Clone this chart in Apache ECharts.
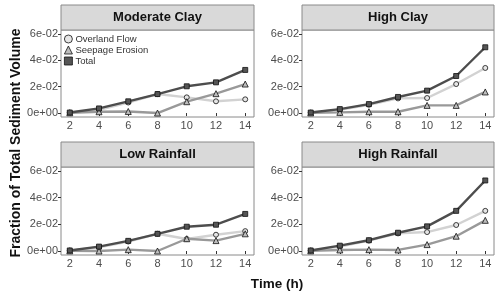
<!DOCTYPE html>
<html><head><meta charset="utf-8">
<script src="https://cdn.jsdelivr.net/npm/echarts@6/dist/echarts.min.js"></script>
<style>html,body{margin:0;padding:0;background:#fff}#c{width:500px;height:294px}</style>
</head><body><div id="c"></div>
<script>
const hours = [2, 4, 6, 8, 10, 12, 14];
const panelTitles = ['Moderate Clay', 'High Clay', 'Low Rainfall', 'High Rainfall'];
const seriesNames = ['Overland Flow', 'Seepage Erosion', 'Total'];

const moderateClayOverland = [0.0003, 0.0025, 0.0080, 0.0144, 0.0119, 0.0089, 0.0104];
const moderateClaySeepage  = [0.0002, 0.0010, 0.0012, 0.0000, 0.0086, 0.0147, 0.0220];
const moderateClayTotal    = [0.0004, 0.0035, 0.0089, 0.0144, 0.0203, 0.0233, 0.0327];

const highClayOverland = [0.0003, 0.0025, 0.0063, 0.0111, 0.0114, 0.0220, 0.0342];
const highClaySeepage  = [0.0001, 0.0005, 0.0010, 0.0010, 0.0058, 0.0058, 0.0160];
const highClayTotal    = [0.0004, 0.0030, 0.0068, 0.0122, 0.0170, 0.0281, 0.0499];

const lowRainOverland = [0.0003, 0.0028, 0.0071, 0.0129, 0.0090, 0.0122, 0.0149];
const lowRainSeepage  = [0.0001, 0.0000, 0.0010, 0.0000, 0.0092, 0.0078, 0.0129];
const lowRainTotal    = [0.0004, 0.0033, 0.0076, 0.0129, 0.0182, 0.0197, 0.0278];

const highRainOverland = [0.0003, 0.0033, 0.0078, 0.0132, 0.0142, 0.0195, 0.0301];
const highRainSeepage  = [0.0001, 0.0008, 0.0010, 0.0008, 0.0048, 0.0111, 0.0230];
const highRainTotal    = [0.0004, 0.0040, 0.0081, 0.0137, 0.0185, 0.0301, 0.0529];

const yTickValues = [0, 0.02, 0.04, 0.06];
const yTickLabels = ['0e+00', '2e-02', '4e-02', '6e-02'];
const xTickValues = [2, 4, 6, 8, 10, 12, 14];

const panelData = [
  [moderateClayOverland, moderateClaySeepage, moderateClayTotal],
  [highClayOverland, highClaySeepage, highClayTotal],
  [lowRainOverland, lowRainSeepage, lowRainTotal],
  [highRainOverland, highRainSeepage, highRainTotal]
];

const FONT = 'Liberation Sans, Arial, sans-serif';
const lineColors = ['#d2d2d2', '#999999', '#4d4d4d'];
const fillColors = ['#e6e6e6', '#bdbdbd', '#555555'];
const symbols = ['circle', 'triangle', 'rect'];
const symbolSizes = [5, 6, 5];

const grids = [
  {left: 61, top: 30, width: 193, height: 87},
  {left: 302, top: 30, width: 192, height: 87},
  {left: 61, top: 167, width: 193, height: 88},
  {left: 302, top: 167, width: 192, height: 88}
];

const chart = echarts.init(document.getElementById('c'), null, {renderer: 'canvas'});

const xAxes = [], yAxes = [], series = [], graphics = [];
grids.forEach((g, i) => {
  g.show = true; g.borderColor = '#8a8a8a'; g.borderWidth = 1; g.backgroundColor = '#fff'; g.containLabel = false;
  xAxes.push({
    type: 'value', gridIndex: i, min: 1.4, max: 14.6,
    axisLine: {show: false},
    splitLine: {show: false},
    axisTick: {show: true, length: 3, lineStyle: {color: '#333'}, customValues: xTickValues},
    axisLabel: {show: true, margin: 3, fontSize: 11, color: '#4d4d4d', fontFamily: FONT, customValues: xTickValues}
  });
  yAxes.push({
    type: 'value', gridIndex: i, min: -0.003, max: 0.063,
    axisLine: {show: false},
    splitLine: {show: false},
    axisTick: {show: true, length: 3, lineStyle: {color: '#333'}, customValues: yTickValues},
    axisLabel: {show: true, margin: 3, fontSize: 11, color: '#4d4d4d', fontFamily: FONT,
      customValues: yTickValues,
      formatter: v => { const k = yTickValues.findIndex(t => Math.abs(t - v) < 1e-9); return k >= 0 ? yTickLabels[k] : ''; }}
  });
  panelData[i].forEach((vals, s) => {
    series.push({
      type: 'line', name: seriesNames[s], xAxisIndex: i, yAxisIndex: i,
      data: hours.map((h, k) => [h, vals[k]]),
      symbol: symbols[s], symbolSize: symbolSizes[s], showSymbol: true,
      z: 2 + s,
      lineStyle: {color: lineColors[s], width: 2.4},
      itemStyle: {color: fillColors[s], borderColor: '#111', borderWidth: 0.8},
      emphasis: {disabled: true},
      animation: false
    });
  });
  graphics.push({
    type: 'rect', shape: {x: g.left, y: g.top - 25, width: g.width, height: 25},
    style: {fill: '#d9d9d9', stroke: '#8a8a8a', lineWidth: 1}
  });
  graphics.push({
    type: 'text', x: g.left + g.width / 2, y: g.top - 12.5,
    style: {text: panelTitles[i], font: 'bold 13px ' + FONT, fill: '#111', textAlign: 'center', textVerticalAlign: 'middle'}
  });
});

graphics.push({
  type: 'text', x: 16, y: 143, rotation: Math.PI / 2,
  style: {text: 'Fraction of Total Sediment Volume', font: 'bold 14px ' + FONT, fill: '#111', textAlign: 'center', textVerticalAlign: 'middle'}
});
graphics.push({
  type: 'text', x: 277, y: 284,
  style: {text: 'Time (h)', font: 'bold 13.5px ' + FONT, fill: '#111', textAlign: 'center', textVerticalAlign: 'middle'}
});

chart.setOption({
  animation: false,
  grid: grids,
  xAxis: xAxes,
  yAxis: yAxes,
  series: series,
  legend: {
    show: true, orient: 'vertical', left: 64, top: 34, padding: 0,
    itemWidth: 8, itemHeight: 8, itemGap: 1,
    textStyle: {fontSize: 9.5, lineHeight: 10, color: '#333', fontFamily: FONT, padding: [0, 0, 0, -2]},
    data: seriesNames.map((n, s) => ({name: n, icon: symbols[s],
      itemStyle: {color: fillColors[s], borderColor: '#111', borderWidth: 0.8}})),
    selectedMode: false
  },
  graphic: graphics
});
</script>
</body></html>
